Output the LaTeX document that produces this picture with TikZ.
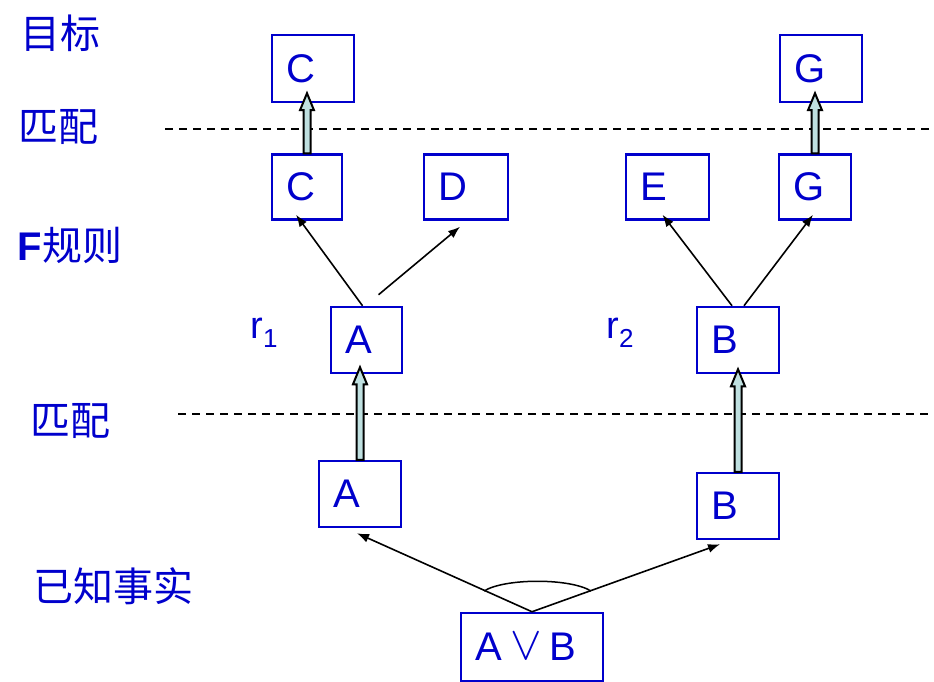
\documentclass[tikz,border=0pt]{standalone}
\usepackage{fontspec}
\setmainfont{Liberation Sans}
\newfontfamily\cjk{Noto Sans CJK SC}
\usepackage{graphicx}
\usepackage{xcolor}
\definecolor{cBlue}{HTML}{0000CC}
\definecolor{cFill}{HTML}{BFE0E0}
\usetikzlibrary{arrows.meta,calc}
\tikzset{
  fact-box/.style={draw=cBlue,line width=2.5pt,text=cBlue,inner xsep=14pt,
    inner ysep=0pt,align=left,font=\fontsize{40}{42}\selectfont},
  side-label/.style={text=cBlue,font=\cjk\fontsize{40}{42}\selectfont},
  arrow/.style={-{Latex[length=12pt,width=9pt]},line width=1.6pt},
  match-line/.style={dashed,dash pattern=on 8pt off 6pt,line width=1.5pt},
  match-arrow/.style={draw=black,fill=cFill,line width=2pt,line join=miter},
}
% hollow upward arrow from #1 (tail) to #2 (tip)
\newcommand{\matcharrow}[2]{%
  \path let \p1=(#1), \p2=(#2) in
    [match-arrow] (\x1-3.5pt,\y1) -- (\x1-3.5pt,\y2-17pt) -- (\x1-7pt,\y2-17pt)
    -- (\x1,\y2) -- (\x1+7pt,\y2-17pt) -- (\x1+3.5pt,\y2-17pt)
    -- (\x1+3.5pt,\y1) -- cycle;}

\begin{document}
\begin{tikzpicture}[x=1pt,y=-1pt]
  \useasboundingbox (0,0) rectangle (934,682);
  % side labels
  \node[side-label] (l-goal) at (60,33) {目标};
  \node[side-label] (l-match1) at (58,127) {匹配};
  \node[side-label,font=\fontsize{40}{42}\selectfont] (l-rule) at (70,245) {\textbf{F}{\cjk 规则}};
  \node[side-label] (l-match2) at (70,421) {匹配};
  \node[side-label] (l-fact) at (113,586) {已知事实};
  \node[text=cBlue,font=\fontsize{38}{40}\selectfont] (r1) at (264,333)
    {r\raisebox{-9pt}{\fontsize{26}{26}\selectfont 1}};
  \node[text=cBlue,font=\fontsize{38}{40}\selectfont] (r2) at (620,333)
    {r\raisebox{-9pt}{\fontsize{26}{26}\selectfont 2}};

  % dashed match lines
  \coordinate (m1a) at (165,129);
  \coordinate (m1b) at (934,129);
  \coordinate (m2a) at (178,414);
  \coordinate (m2b) at (934,414);
  \draw[match-line] (m1a) -- (m1b);
  \draw[match-line] (m2a) -- (m2b);

  % goal boxes
  \node[fact-box,text width=54pt,minimum height=67pt] (ct) at (313,68.5) {C};
  \node[fact-box,text width=54pt,minimum height=67pt] (gt) at (821,68.5) {G};
  % rule conclusions
  \node[fact-box,text width=42pt,minimum height=65pt] (cl) at (307,187) {C};
  \node[fact-box,text width=56pt,minimum height=65pt] (d) at (466,187) {D};
  \node[fact-box,text width=55pt,minimum height=65pt] (e) at (667.5,187) {E};
  \node[fact-box,text width=44pt,minimum height=65pt] (gl) at (815,187) {G};
  % rule premises
  \node[fact-box,text width=43pt,minimum height=66pt] (ra) at (366.5,340) {A};
  \node[fact-box,text width=54pt,minimum height=66pt] (rb) at (738,340) {B};
  % facts
  \node[fact-box,text width=54pt,minimum height=66pt] (fa) at (360,494) {A};
  \node[fact-box,text width=54pt,minimum height=66pt] (fb) at (738,506) {B};
  \node[fact-box,text width=114pt,minimum height=68pt] (ab) at (532,647)
    {A\hspace{9pt}\raisebox{1pt}{\scalebox{1.9}{$\vee$}}\hspace{7pt}B};

  % match arrows
  \matcharrow{cl.north}{$(ct.south)+(0,-10)$}
  \matcharrow{gl.north}{$(gt.south)+(0,-10)$}
  \matcharrow{fa.north}{$(ra.south)+(-6,-7)$}
  \matcharrow{fb.north}{$(rb.south)+(0,-5)$}

  % rules
  \draw[arrow] ($(ra.north)+(-4,0)$) -- ($(cl.south)+(-11,-6)$);
  \draw[arrow] ($(ra.north)+(12,-11)$) -- ($(d.south)+(-6,6)$);
  \draw[arrow] ($(rb.north)+(-6,0)$) -- ($(e.south)+(-5,-6)$);
  \draw[arrow] ($(rb.north)+(6,0)$) -- ($(gl.south)+(-2,-6)$);

  % disjunction split
  \coordinate (split) at (ab.north);
  \draw[arrow] (split) -- ($(fa.south)+(-3,5)$);
  \draw[arrow] (split) -- ($(fb.south)+(-18,4)$);
  \draw[line width=1.5pt] (484,591) .. controls (505,578) and (570,578) .. (591,591);
\end{tikzpicture}
\end{document}
